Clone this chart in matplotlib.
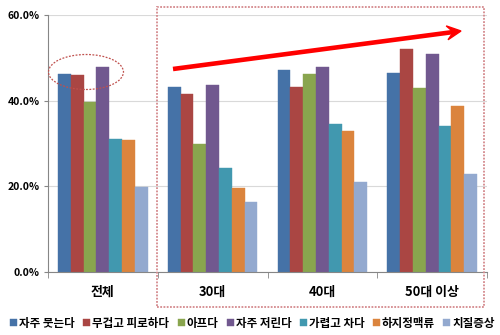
import matplotlib.pyplot as plt
import numpy as np
from matplotlib.patches import Ellipse, Rectangle, Polygon
from matplotlib.lines import Line2D

plt.rcParams['font.family'] = ['Noto Sans CJK KR', 'DejaVu Sans']

groups = ['전체', '30대', '40대', '50대 이상']
symptoms = ['자주 붓는다', '무겁고 피로하다', '아프다', '자주 저린다',
            '가렵고 차다', '하지정맥류', '치질증상']
# percent per symptom, one value per age group
values = [
    [46.2, 43.2, 47.1, 46.4],
    [46.0, 41.5, 43.2, 52.1],
    [39.7, 29.9, 46.2, 43.0],
    [47.9, 43.7, 47.9, 51.0],
    [31.0, 24.2, 34.5, 34.1],
    [30.8, 19.7, 32.9, 38.7],
    [19.9, 16.3, 21.1, 22.8],
]
colors = ['#4572A7', '#AA4643', '#89A54E', '#71588F',
          '#4198AF', '#DB843D', '#93A9CF']

fig = plt.figure(figsize=(5, 3.35), dpi=100)
ax = fig.add_axes([0.096, 0.188, 0.878, 0.767])

x = np.arange(len(groups))
n = len(symptoms)
bw = 0.815 / n
for i, (name, vals, c) in enumerate(zip(symptoms, values, colors)):
    ax.bar(x - 0.4075 + bw * (i + 0.5), np.array(vals) / 100, bw,
           color=c, edgecolor=c, linewidth=0.3, label=name, zorder=2)

ax.set_xlim(-0.5, len(groups) - 0.5)
ax.set_ylim(0, 0.6)
ax.set_yticks([0, 0.2, 0.4, 0.6])
ax.set_yticklabels(['0.0%', '20.0%', '40.0%', '60.0%'],
                   fontsize=7.5, fontweight='bold')
ax.yaxis.grid(True, color='#d9d9d9', linewidth=0.8, zorder=0)
ax.set_axisbelow(True)

ax.set_xticks(x)
ax.set_xticklabels(groups, fontsize=9.3, fontweight='bold')
ax.tick_params(axis='x', length=0, pad=9)
ax.set_xticks(np.arange(-0.5, len(groups) + 0.5), minor=True)
ax.tick_params(axis='x', which='minor', length=4, color='#868686')
ax.tick_params(axis='y', length=3, color='#868686', pad=3)

for s in ['top', 'right']:
    ax.spines[s].set_visible(False)
for s in ['left', 'bottom']:
    ax.spines[s].set_color('#868686')

# highlight marks in figure pixel coordinates
def px(xp, yp):
    return xp / 500, 1 - yp / 335

ell = Ellipse(px(86, 72), 75 / 500, 35 / 335, transform=fig.transFigure,
              fill=False, edgecolor='#C0504D', linestyle=(0, (1.5, 1.2)),
              linewidth=0.9)
fig.patches.append(ell)

x0, y0 = px(157, 307)
rect = Rectangle((x0, y0), (484 - 157) / 500, (307 - 7) / 335,
                 transform=fig.transFigure, fill=False, edgecolor='#D48A8E',
                 linestyle=(0, (1, 0.8)), linewidth=1.3)
fig.patches.append(rect)

# trend arrow with a notched head
start = np.array([173.0, 69.0])
tip = np.array([461.0, 31.0])
d = (tip - start) / np.linalg.norm(tip - start)
p = np.array([-d[1], d[0]])
L, W = 14.0, 7.0
notch = tip - 0.55 * L * d
head = [tip, tip - L * d + W * p, notch, tip - L * d - W * p]
fig.patches.append(Polygon([px(*q) for q in head], closed=True,
                           transform=fig.transFigure, color='#FF0000'))
s0, s1 = px(*start), px(*(notch + 1.0 * d))
fig.lines.append(Line2D([s0[0], s1[0]], [s0[1], s1[1]],
                        transform=fig.transFigure, color='#FF0000',
                        linewidth=3.3, solid_capstyle='butt'))

fig.legend(loc='center', bbox_to_anchor=(0.505, 1 - 323 / 335), ncol=n,
           frameon=False, handlelength=0.6, handleheight=0.6,
           handletextpad=0.15, columnspacing=0.75,
           prop={'weight': 'bold', 'size': 8.3})

fig.savefig('out.png', dpi=100)
